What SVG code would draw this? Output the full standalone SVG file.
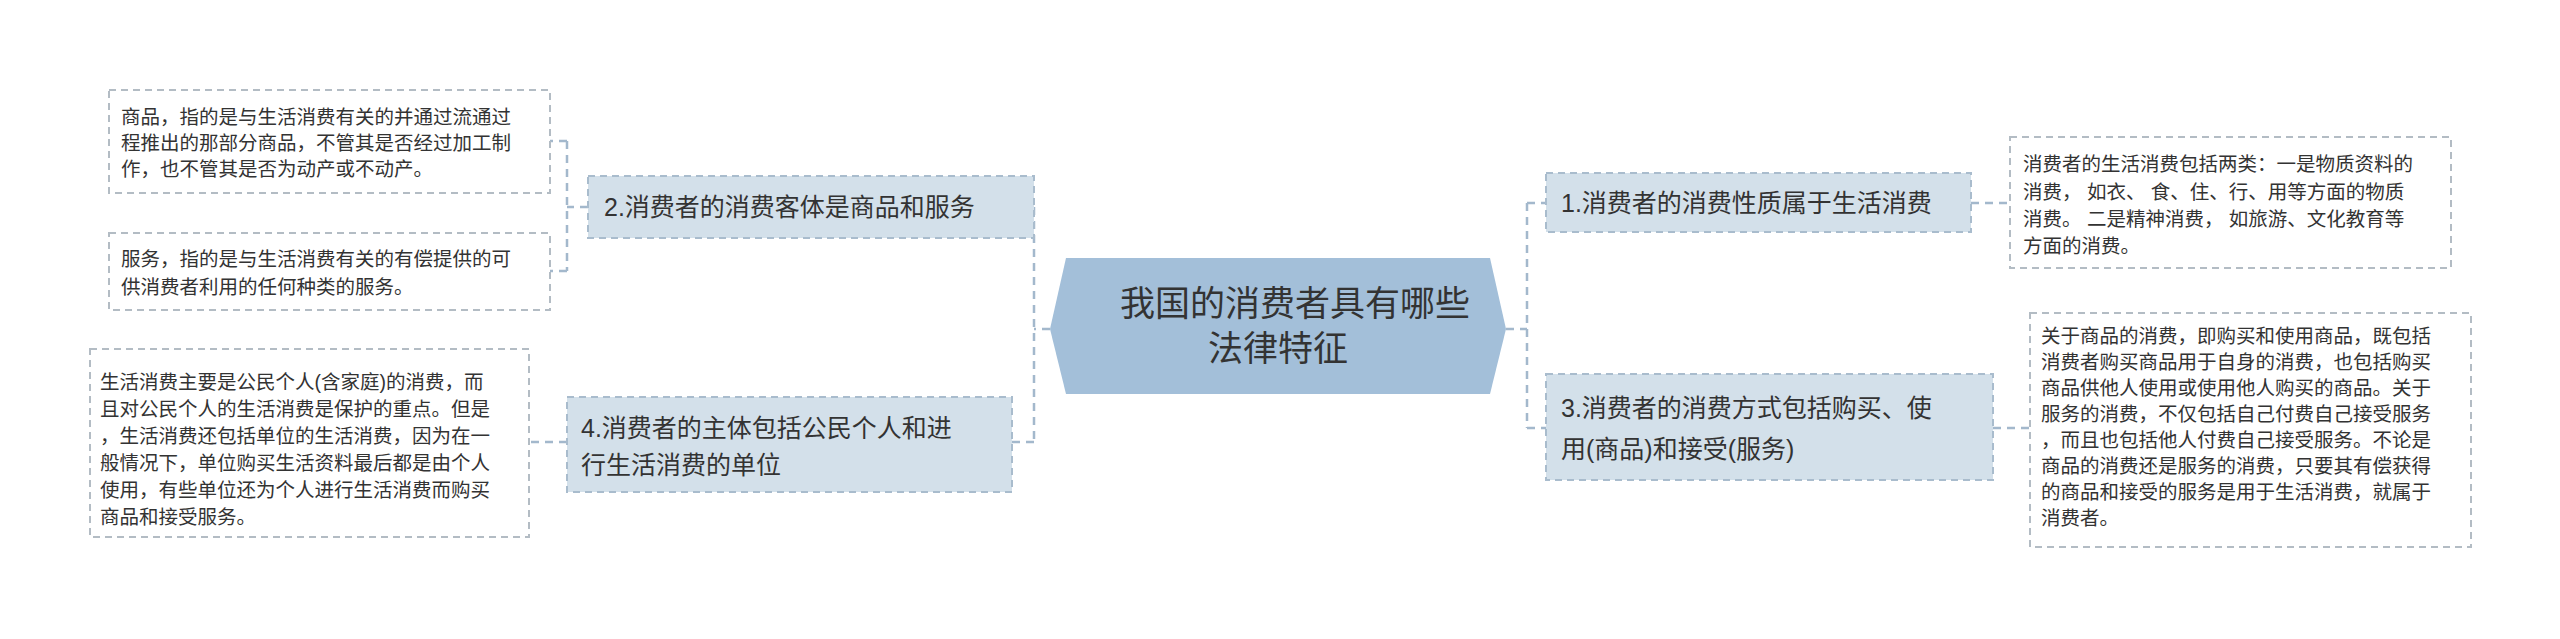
<svg xmlns="http://www.w3.org/2000/svg" width="2560" height="639" viewBox="0 0 2560 639">
<style>
text{font-family:"Liberation Sans","Noto Sans CJK SC",sans-serif;fill:#333}
.c{font-size:35px}
.n{font-size:25px}
.l{font-size:19.5px}
.nb{fill:#d3e0ea;stroke:#a9bccd;stroke-width:2;stroke-dasharray:7,5}
.lb{fill:#fff;stroke:#b3bcc4;stroke-width:2;stroke-dasharray:7,5}
.k{fill:none;stroke:#a3b8cc;stroke-width:2.5;stroke-dasharray:8,6}
</style>
<rect width="2560" height="639" fill="#fff"/>
<g id="connectors">
<path class="k" d="M1050 329H1034M1034 207V442M1012 442H1034"/>
<path class="k" d="M1506 329H1527M1527 203V428M1527 203H1546M1527 428H1546"/>
<path class="k" d="M588 207H567M567 141V271M567 141H550M567 271H550"/>
<path class="k" d="M567 442H529"/>
<path class="k" d="M1971 203H2010M1993 428H2030"/>
</g>
<g id="center">
<polygon points="1050,329 1066,258 1490,258 1506,329 1490,394 1066,394" fill="#a3bfd9"/>
<text class="c" x="1120" y="316">我国的消费者具有哪些</text>
<text class="c" x="1208" y="361">法律特征</text>
</g>
<g id="n2"><rect class="nb" x="588" y="176" width="446" height="62"/>
<text class="n" x="604" y="216">2.消费者的消费客体是商品和服务</text></g>
<g id="n4"><rect class="nb" x="567" y="397" width="445" height="95"/>
<text class="n" x="581" y="437">4.消费者的主体包括公民个人和进</text>
<text class="n" x="581" y="474">行生活消费的单位</text></g>
<g id="n1"><rect class="nb" x="1546" y="173" width="425" height="59"/>
<text class="n" x="1561" y="212">1.消费者的消费性质属于生活消费</text></g>
<g id="n3"><rect class="nb" x="1546" y="374" width="447" height="106"/>
<text class="n" x="1561" y="417">3.消费者的消费方式包括购买、使</text>
<text class="n" x="1561" y="458">用(商品)和接受(服务)</text></g>
<g id="l1"><rect class="lb" x="109" y="90" width="441" height="103"/>
<text class="l" x="121" y="124">商品，指的是与生活消费有关的并通过流通过</text>
<text class="l" x="121" y="150">程推出的那部分商品，不管其是否经过加工制</text>
<text class="l" x="121" y="176">作，也不管其是否为动产或不动产。</text></g>
<g id="l2"><rect class="lb" x="109" y="233" width="441" height="77"/>
<text class="l" x="121" y="266">服务，指的是与生活消费有关的有偿提供的可</text>
<text class="l" x="121" y="294">供消费者利用的任何种类的服务。</text></g>
<g id="l4"><rect class="lb" x="90" y="349" width="439" height="188"/>
<text class="l" x="100" y="389">生活消费主要是公民个人(含家庭)的消费，而</text>
<text class="l" x="100" y="416">且对公民个人的生活消费是保护的重点。但是</text>
<text class="l" x="100" y="443">，生活消费还包括单位的生活消费，因为在一</text>
<text class="l" x="100" y="470">般情况下，单位购买生活资料最后都是由个人</text>
<text class="l" x="100" y="497">使用，有些单位还为个人进行生活消费而购买</text>
<text class="l" x="100" y="524">商品和接受服务。</text></g>
<g id="r1"><rect class="lb" x="2010" y="137" width="441" height="131"/>
<text class="l" x="2023" y="171">消费者的生活消费包括两类：一是物质资料的</text>
<text class="l" x="2023" y="199">消费， 如衣、 食、住、行、用等方面的物质</text>
<text class="l" x="2023" y="226">消费。 二是精神消费， 如旅游、文化教育等</text>
<text class="l" x="2023" y="253">方面的消费。</text></g>
<g id="r3"><rect class="lb" x="2030" y="313" width="441" height="234"/>
<text class="l" x="2041" y="343">关于商品的消费，即购买和使用商品，既包括</text>
<text class="l" x="2041" y="369">消费者购买商品用于自身的消费，也包括购买</text>
<text class="l" x="2041" y="395">商品供他人使用或使用他人购买的商品。关于</text>
<text class="l" x="2041" y="421">服务的消费，不仅包括自己付费自己接受服务</text>
<text class="l" x="2041" y="447">，而且也包括他人付费自己接受服务。不论是</text>
<text class="l" x="2041" y="473">商品的消费还是服务的消费，只要其有偿获得</text>
<text class="l" x="2041" y="499">的商品和接受的服务是用于生活消费，就属于</text>
<text class="l" x="2041" y="525">消费者。</text>
</g>
</svg>
